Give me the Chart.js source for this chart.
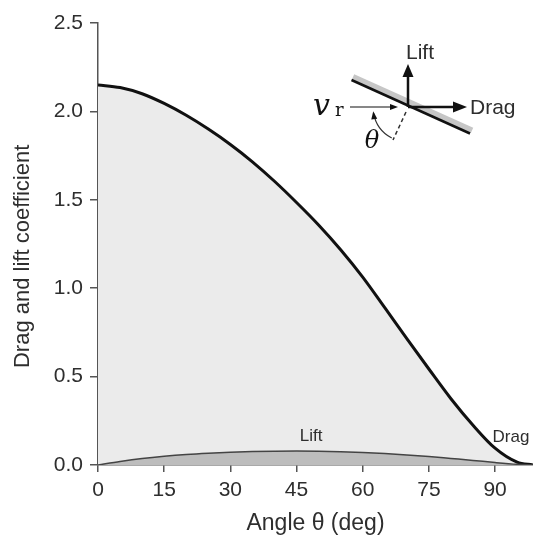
<!DOCTYPE html>
<html>
<head>
<meta charset="utf-8">
<script src="https://cdn.jsdelivr.net/npm/chart.js@4.4.1/dist/chart.umd.min.js"></script>
<style>
  html, body { margin: 0; padding: 0; background: #fff; }
  #wrap { width: 533px; height: 537px; }
</style>
</head>
<body>
<div id="wrap"><canvas id="coeff-chart" width="533" height="537"></canvas></div>
<script>
/* ===== DRAG / LIFT COEFFICIENT vs ANGLE ===== */

// Angle of attack (deg) and the two coefficients
const angles    = [0, 5, 10, 15, 20, 25, 30, 35, 40, 45, 50, 55, 60, 65, 70, 75, 80, 85, 90, 95, 98.6];
const dragCoeff = [2.15, 2.135, 2.10, 2.045, 1.978, 1.90, 1.813, 1.715, 1.605, 1.485, 1.358, 1.218, 1.063, 0.89, 0.715, 0.543, 0.375, 0.225, 0.095, 0.016, 0.0];
const liftCoeff = [0, 0.02, 0.037, 0.05, 0.06, 0.067, 0.072, 0.076, 0.078, 0.079, 0.078, 0.075, 0.071, 0.065, 0.057, 0.048, 0.037, 0.026, 0.014, 0.004, 0];

const xTicks = [0, 15, 30, 45, 60, 75, 90];
const yTicks = [0, 0.5, 1.0, 1.5, 2.0, 2.5];

const SANS = '"Liberation Sans", Arial, Helvetica, sans-serif';
const SERIF = '"DejaVu Serif", "Liberation Serif", serif';
const INK = '#2e2e2e';
const AXIS = '#555';

function toPoints(ys) {
    return angles.map((a, i) => ({ x: a, y: ys[i] }));
}

function arrowHead(ctx, tipX, tipY, dirX, dirY, len, half) {
    const px = -dirY, py = dirX;
    ctx.beginPath();
    ctx.moveTo(tipX, tipY);
    ctx.lineTo(tipX - dirX * len + px * half, tipY - dirY * len + py * half);
    ctx.lineTo(tipX - dirX * len - px * half, tipY - dirY * len - py * half);
    ctx.closePath();
    ctx.fill();
}

// curve labels, y title + the little plate sketch in the top right
const annotations = {
    id: 'annotations',
    afterDatasetsDraw(chart) {
        const ctx = chart.ctx;
        const { x, y } = chart.scales;
        ctx.save();
        ctx.fillStyle = INK;
        ctx.textAlign = 'center';
        ctx.textBaseline = 'middle';
        ctx.font = '17px ' + SANS;
        ctx.fillText('Lift', x.getPixelForValue(48.3), y.getPixelForValue(0.16));
        ctx.fillText('Drag', x.getPixelForValue(93.6), y.getPixelForValue(0.155));

        // y axis title, sits a bit below the middle of the axis in the original
        ctx.save();
        ctx.translate(23, y.getPixelForValue(1.18));
        ctx.rotate(-Math.PI / 2);
        ctx.font = '22px ' + SANS;
        ctx.fillText('Drag and lift coefficient', 0, 0);
        ctx.restore();

        // plate sketch, centred where the forces meet
        const cx = 408, cy = 107;

        // plate with its grey shade
        ctx.lineCap = 'butt';
        ctx.strokeStyle = '#c6c6c6';
        ctx.lineWidth = 6;
        ctx.beginPath();
        ctx.moveTo(353, 77);
        ctx.lineTo(472, 130.5);
        ctx.stroke();
        ctx.strokeStyle = '#111';
        ctx.lineWidth = 2.5;
        ctx.beginPath();
        ctx.moveTo(351.5, 80);
        ctx.lineTo(470, 133.5);
        ctx.stroke();

        // lift & drag arrows
        ctx.fillStyle = '#111';
        ctx.lineWidth = 2.5;
        ctx.beginPath();
        ctx.moveTo(cx, cy);
        ctx.lineTo(cx, 76);
        ctx.moveTo(cx, cy);
        ctx.lineTo(455, cy);
        ctx.stroke();
        arrowHead(ctx, cx, 64, 0, -1, 13, 5.5);
        arrowHead(ctx, 467, cy, 1, 0, 14, 5.5);

        // incoming flow arrow
        ctx.lineWidth = 1.2;
        ctx.beginPath();
        ctx.moveTo(350, cy);
        ctx.lineTo(392, cy);
        ctx.stroke();
        arrowHead(ctx, 398, cy, 1, 0, 8, 3);

        // plate normal (dashed)
        ctx.strokeStyle = '#333';
        ctx.lineWidth = 1.5;
        ctx.setLineDash([4, 3]);
        ctx.beginPath();
        ctx.moveTo(cx - 2, cy + 5);
        ctx.lineTo(393, 140);
        ctx.stroke();
        ctx.setLineDash([]);

        // angle arc
        const r = 35;
        const a0 = 117.7 * Math.PI / 180, a1 = 170 * Math.PI / 180;
        ctx.lineWidth = 1.2;
        ctx.beginPath();
        ctx.arc(cx, cy, r, a0, a1, false);
        ctx.stroke();
        const aTip = 173 * Math.PI / 180;
        arrowHead(ctx, cx + r * Math.cos(aTip), cy + r * Math.sin(aTip), -Math.sin(aTip), Math.cos(aTip), 8, 3);

        // texts of the sketch
        ctx.fillStyle = INK;
        ctx.font = '21px ' + SANS;
        ctx.fillText('Lift', 420, 53);
        ctx.textAlign = 'left';
        ctx.fillText('Drag', 470, 108);

        ctx.fillStyle = '#111';
        ctx.textBaseline = 'alphabetic';
        ctx.font = 'italic 30px ' + SERIF;
        ctx.fillText('v', 313, 115);
        ctx.font = '18px ' + SERIF;
        ctx.fillText('r', 335, 116);
        ctx.font = 'italic 24px ' + SERIF;
        ctx.textAlign = 'center';
        ctx.fillText('θ', 372, 148);
        ctx.restore();
    }
};

const CoeffChart = {
    chart: null,

    init() {
        const el = document.getElementById('coeff-chart');
        if (!el || typeof Chart === 'undefined') return;

        this.chart = new Chart(el, {
            type: 'line',
            data: {
                datasets: [
                    {
                        label: 'Drag',
                        data: toPoints(dragCoeff),
                        borderColor: '#111',
                        borderWidth: 3,
                        backgroundColor: '#ebebeb',
                        fill: 'origin',
                        pointRadius: 0,
                        cubicInterpolationMode: 'monotone',
                        order: 2
                    },
                    {
                        label: 'Lift',
                        data: toPoints(liftCoeff),
                        borderColor: '#444',
                        borderWidth: 1.5,
                        backgroundColor: '#bdbdbd',
                        fill: 'origin',
                        pointRadius: 0,
                        cubicInterpolationMode: 'monotone',
                        order: 1
                    }
                ]
            },
            options: {
                responsive: false,
                animation: false,
                devicePixelRatio: 1,
                layout: { padding: { top: 23, right: 0, bottom: 0, left: 0 } },
                plugins: {
                    legend: { display: false },
                    tooltip: { enabled: false },
                    filler: { drawTime: 'beforeDatasetsDraw' }
                },
                scales: {
                    x: {
                        type: 'linear',
                        min: 0,
                        max: 98.6,
                        afterBuildTicks: s => { s.ticks = xTicks.map(v => ({ value: v })); },
                        afterFit: s => { s.height = 72; },
                        border: { color: AXIS, width: 1.5 },
                        grid: { drawOnChartArea: false, drawTicks: true, tickLength: 7, color: AXIS, lineWidth: 1.5 },
                        ticks: { color: INK, padding: 6, maxRotation: 0, font: { family: SANS, size: 21 } },
                        title: {
                            display: true,
                            text: 'Angle θ (deg)',
                            color: INK,
                            padding: { top: 0, bottom: 0 },
                            font: { family: SANS, size: 23 }
                        }
                    },
                    y: {
                        min: 0,
                        max: 2.5,
                        afterBuildTicks: s => { s.ticks = yTicks.map(v => ({ value: v })); },
                        afterFit: s => { s.width = 98; },
                        border: { color: AXIS, width: 1.5 },
                        grid: { drawOnChartArea: false, drawTicks: true, tickLength: 8, color: AXIS, lineWidth: 1.5 },
                        ticks: {
                            color: INK,
                            padding: 7,
                            font: { family: SANS, size: 21 },
                            callback: v => v.toFixed(1)
                        },
                        title: { display: false }
                    }
                }
            },
            plugins: [annotations]
        });
    }
};

CoeffChart.init();
</script>
</body>
</html>
